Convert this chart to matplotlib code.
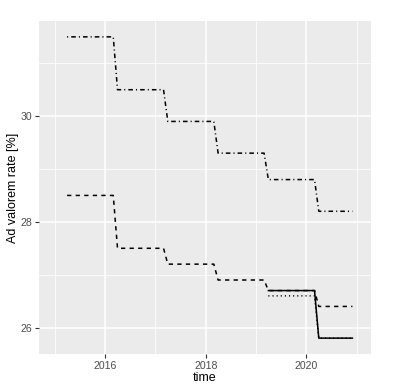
import matplotlib
matplotlib.use("Agg")
import matplotlib.pyplot as plt
import matplotlib.dates as mdates
import pandas as pd

plt.rcParams["font.family"] = ["Liberation Sans", "DejaVu Sans"]

# step series (change points, monthly)
dashdot_dates = ["2015-04-01", "2016-03-01", "2016-04-01", "2017-03-01", "2017-04-01",
                 "2018-03-01", "2018-04-01", "2019-03-01", "2019-04-01", "2020-03-01",
                 "2020-04-01", "2020-12-01"]
dashdot_vals = [31.5, 31.5, 30.5, 30.5, 29.9, 29.9, 29.3, 29.3, 28.8, 28.8, 28.2, 28.2]

dashed_dates = dashdot_dates
dashed_vals = [28.5, 28.5, 27.5, 27.5, 27.2, 27.2, 26.9, 26.9, 26.7, 26.7, 26.4, 26.4]

solid_dates = ["2019-04-01", "2020-03-01", "2020-04-01", "2020-12-01"]
solid_vals = [26.7, 26.7, 25.8, 25.8]

dotted_dates = solid_dates
dotted_vals = [26.6, 26.6, 25.8, 25.8]

major_years = [2016, 2018, 2020]
minor_years = [2015, 2017, 2019, 2021]

fig = plt.figure(figsize=(3.99, 3.89), dpi=100)
ax = fig.add_axes([39 / 399, 35 / 389, 332 / 399, 333 / 389])
ax.set_facecolor("#EBEBEB")
for s in ax.spines.values():
    s.set_visible(False)

lw = 1.1
ax.plot(pd.to_datetime(dashdot_dates), dashdot_vals, color="black", lw=lw,
        dashes=(0.7, 2.0, 3.0, 2.0))
ax.plot(pd.to_datetime(dashed_dates), dashed_vals, color="black", lw=lw,
        dashes=(2.8, 2.8))
ax.plot(pd.to_datetime(dotted_dates), dotted_vals, color="black", lw=lw,
        dashes=(0.7, 2.0))
ax.plot(pd.to_datetime(solid_dates), solid_vals, color="black", lw=lw)

ax.set_xlim(pd.Timestamp("2014-09-09"), pd.Timestamp("2021-04-15"))
ax.set_ylim(25.5, 31.8)

ax.set_xticks([pd.Timestamp(f"{y}-01-01") for y in major_years])
ax.set_xticks([pd.Timestamp(f"{y}-01-01") for y in minor_years], minor=True)
ax.xaxis.set_major_formatter(mdates.DateFormatter("%Y"))
ax.set_yticks([26, 28, 30])
ax.set_yticks([27, 29, 31], minor=True)

ax.grid(which="major", color="white", lw=1.1)
ax.grid(which="minor", color="white", lw=0.55)
ax.set_axisbelow(True)
ax.tick_params(which="major", length=3, width=0.8, color="#333333",
               labelsize=7.6, labelcolor="#4D4D4D", pad=2)
ax.tick_params(which="minor", length=0)

ax.set_xlabel("time", fontsize=9, labelpad=1)
ax.set_ylabel("Ad valorem rate [%]", fontsize=9, labelpad=1)

fig.savefig("out.png", dpi=100)
